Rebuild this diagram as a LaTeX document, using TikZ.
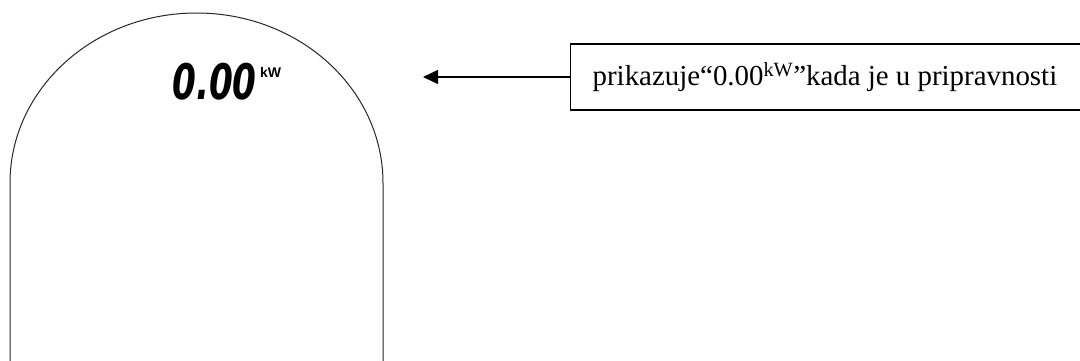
\documentclass[tikz,border=0pt]{standalone}
\usepackage{fontspec}
\setmainfont{Liberation Serif}
\newfontfamily\lcdfont{DejaVu Sans}
\newfontfamily\unitfont{Liberation Sans}
\usetikzlibrary{arrows.meta}

\begin{document}
\begin{tikzpicture}[x=1pt,y=1pt]
      \tikzstyle{outline}=[draw=black!85, line width=1pt]
      \tikzstyle{labelbox}=[draw, line width=1.3pt, anchor=west, minimum height=66pt, inner xsep=22pt, font=\fontsize{28.9}{33}\selectfont]
      \tikzstyle{pointer}=[line width=1.3pt, -{Triangle[length=15pt,width=14pt]}]
      \useasboundingbox (0,0) rectangle (1080,360);
      % display housing
      \draw[outline] (10,-5) -- (10,177) arc[start angle=180, end angle=0, x radius=186.5, y radius=170] -- (383,-5);
      % readout
      \node[inner sep=0pt, anchor=base west] (reading) at (172,261)
        {\scalebox{0.7}[1]{\fontsize{49}{52}\lcdfont\bfseries\itshape 0.00}};
      \node[inner sep=0pt, anchor=north west, font=\unitfont\bfseries\fontsize{14}{16}\selectfont] (unit) at (260,293) {kW};
      % note
      \node[labelbox] (note) at (570,283) {\makebox[490pt][l]{prikazuje“0.00\textsuperscript{kW}”kada je u pripravnosti}};
      \coordinate (tip) at (423,283);
      \draw[pointer] (note.west) -- (tip);
\end{tikzpicture}
\end{document}
